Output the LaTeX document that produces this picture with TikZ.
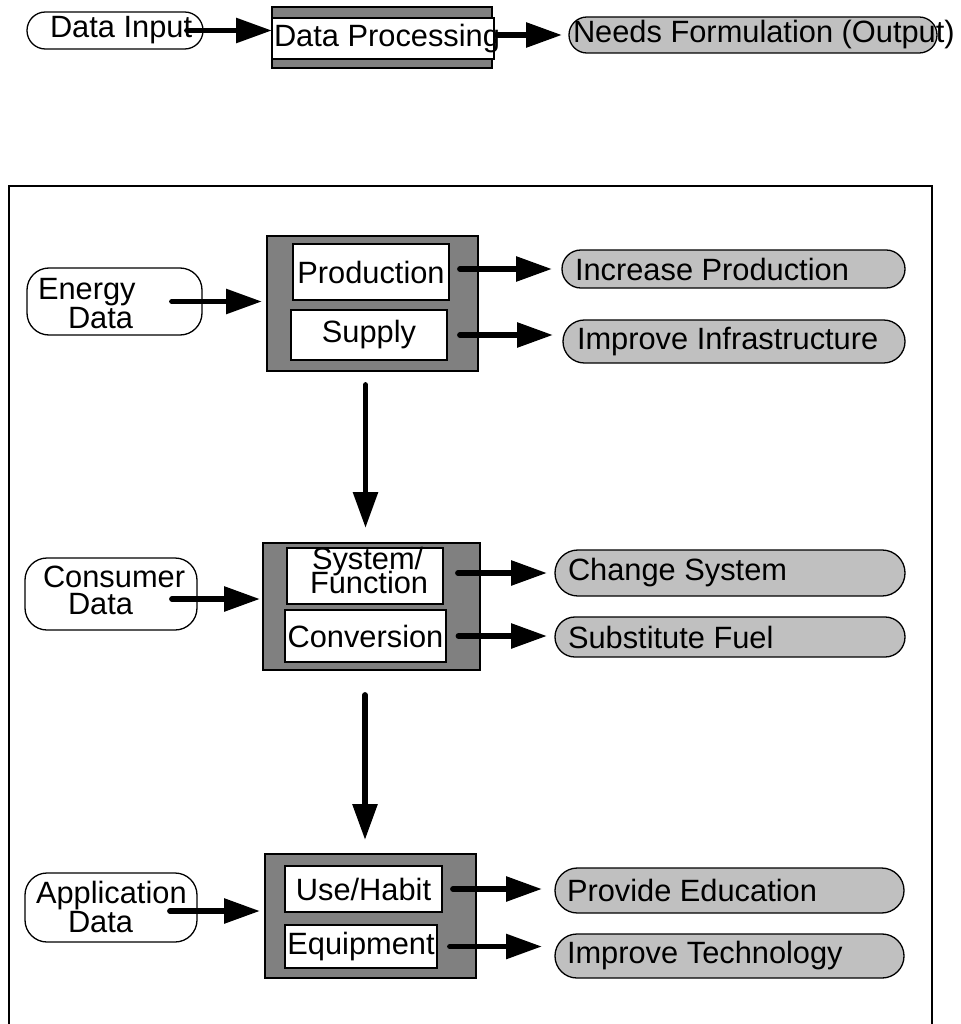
\documentclass[tikz,border=0pt]{standalone}
\usepackage{fontspec}
\setmainfont{Liberation Sans}
\usetikzlibrary{arrows.meta,calc}
\definecolor{blockgray}{RGB}{128,128,128}
\definecolor{pillgray}{RGB}{192,192,192}
\begin{document}
\begin{tikzpicture}[x=1pt,y=-1pt,
  font=\fontsize{30.8}{30.8}\selectfont,
  every node/.style={inner sep=0pt, outer sep=0pt},
  frame/.style={draw=black, line width=2pt},
  block/.style={draw=black, line width=1.2pt, fill=blockgray},
  inbox/.style={draw=black, line width=1.2pt, fill=white},
  pill/.style={draw=black, line width=1.3pt, fill=pillgray, rounded corners=#1},
  datapill/.style={draw=black, line width=1.3pt, fill=white, rounded corners=#1},
  arr/.style={line width=5.8pt, line cap=round, -{Triangle[length=36pt,width=24pt]}}]
\useasboundingbox (0,0) rectangle (960,1024);

% ---------- key: input -> processing -> output ----------
\node[datapill=18.4pt, minimum width=176pt, minimum height=37pt] (din) at (115,30.5)
  {\makebox[176pt][l]{\hspace{23pt}Data Input}};
\node[block, minimum width=220pt, minimum height=61pt] (dpg) at (382,37.5) {};
\node[inbox, minimum width=222pt, minimum height=41pt] (dproc) at (383,38.5)
  {\makebox[222pt][l]{\hspace{2pt}Data Processing}};
\node[pill=17.9pt, minimum width=368pt, minimum height=36pt] (needs) at (753,35)
  {\makebox[368pt][l]{\hspace{4pt}Needs Formulation (Output)}};
\draw[arr] ([xshift=-16pt]din.east) -- (din.east -| dpg.west);
\draw[arr, shorten <=3pt, shorten >=7pt] (dproc.east |- needs.west) -- (needs.west);

% ---------- outer frame ----------
\draw[frame] (9,1030) -- (9,186) -- (932,186) -- (932,1030);

% ---------- energy level ----------
\node[datapill=22pt, minimum width=175pt, minimum height=67pt] (edata) at (114.5,301.5) {};
\node[anchor=base west] (edata1) at (38,299) {Energy};
\node[anchor=base west] (edata2) at (68,328) {Data};
\node[block, minimum width=211pt, minimum height=135pt] (eblk) at (372.5,303.5) {};
\node[inbox, minimum width=156pt, minimum height=56pt] (prod) at (371,272) {Production};
\node[inbox, minimum width=156pt, minimum height=50pt] (supply) at (369,335) {Supply};
\node[pill=18.9pt, minimum width=343pt, minimum height=38pt] (incp) at (733.5,269)
  {\makebox[343pt][l]{\hspace{13pt}Increase Production}};
\node[pill=21.4pt, minimum width=342pt, minimum height=43pt] (infra) at (734,341.5)
  {\makebox[342pt][l]{\hspace{14pt}Improve Infrastructure}};
\draw[arr, shorten >=5pt] ([xshift=-30pt]edata.east) -- (edata.east -| eblk.west);
\draw[arr, shorten <=11pt, shorten >=10pt] (prod.east |- incp.west) -- (incp.west);
\draw[arr, shorten <=13pt, shorten >=10pt] (supply.east) -- (supply.east -| infra.west);

% ---------- consumer level ----------
\node[datapill=22pt, minimum width=172pt, minimum height=72pt] (cdata) at (111,594) {};
\node[anchor=base west] (cdata1) at (43,587) {Consumer};
\node[anchor=base west] (cdata2) at (68,614) {Data};
\node[block, minimum width=217pt, minimum height=127pt] (cblk) at (371.5,606.5) {};
\node[inbox, minimum width=156pt, minimum height=56pt] (sys) at (365,576) {};
\node[anchor=base west] (sys1) at (312,569) {System/};
\node[anchor=base west] (sys2) at (310,593) {Function};
\node[inbox, minimum width=161pt, minimum height=52pt] (conv) at (365.5,636) {Conversion};
\node[pill=22.9pt, minimum width=350pt, minimum height=46pt] (chsys) at (730,573)
  {\makebox[350pt][l]{\hspace{13pt}Change System}};
\node[pill=19.9pt, minimum width=350pt, minimum height=40pt] (subf) at (730,637)
  {\makebox[350pt][l]{\hspace{13pt}Substitute Fuel}};
\draw[arr, shorten <=14pt, shorten >=15pt] ([xshift=-7pt]eblk.south) -- ([xshift=-7pt]eblk.south |- cblk.north);
\draw[arr, shorten >=3pt] ([xshift=-25pt,yshift=-5pt]cdata.east) -- ([yshift=-5pt]cdata.east -| cblk.west);
\draw[arr, shorten <=15pt, shorten >=8pt] (chsys.west -| sys.east) -- (chsys.west);
\draw[arr, shorten <=12.5pt, shorten >=8pt] (conv.east) -- (conv.east -| subf.west);

% ---------- application level ----------
\node[datapill=22pt, minimum width=172pt, minimum height=69pt] (adata) at (111,907.5) {};
\node[anchor=base west] (adata1) at (36,903) {Application};
\node[anchor=base west] (adata2) at (68,932) {Data};
\node[block, minimum width=211pt, minimum height=124pt] (ablk) at (370.5,916) {};
\node[inbox, minimum width=157pt, minimum height=46pt] (use) at (363.5,889) {Use/Habit};
\node[inbox, minimum width=152pt, minimum height=43pt] (equip) at (361,946.5) {Equipment};
\node[pill=22.4pt, minimum width=349pt, minimum height=45pt] (edu) at (729.5,890.5)
  {\makebox[349pt][l]{\hspace{12pt}Provide Education}};
\node[pill=21.9pt, minimum width=349pt, minimum height=44pt] (tech) at (729.5,956)
  {\makebox[349pt][l]{\hspace{12pt}Improve Technology}};
\draw[arr, shorten <=25pt, shorten >=14pt] ([xshift=-6.5pt]cblk.south) -- ([xshift=-6.5pt]cblk.south |- ablk.north);
\draw[arr, shorten >=5pt] ([xshift=-27pt,yshift=-3.5pt]adata.east) -- ([yshift=-3.5pt]adata.east -| ablk.west);
\draw[arr, shorten <=11pt, shorten >=13pt] (use.east) -- (use.east -| edu.west);
\draw[arr, shorten <=13pt, shorten >=13pt] (equip.east) -- (equip.east -| tech.west);
\end{tikzpicture}
\end{document}
